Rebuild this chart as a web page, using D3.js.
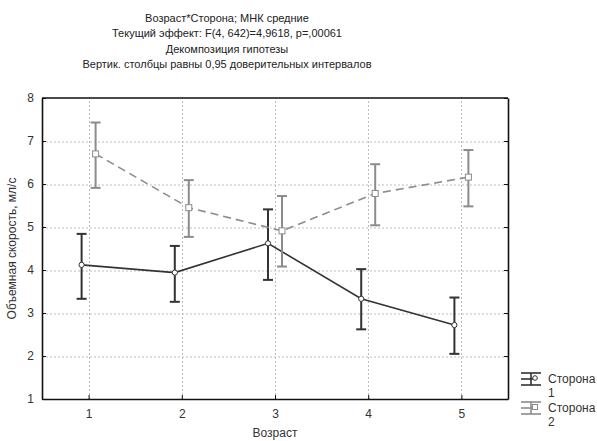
<!DOCTYPE html>
<html>
<head>
<meta charset="utf-8">
<script src="https://cdn.jsdelivr.net/npm/d3@7"></script>
<style>
  body { margin: 0; background: #fff; }
  svg { font-family: "Liberation Sans", Arial, sans-serif; }
</style>
</head>
<body>
<svg id="chart" width="597" height="441"></svg>
<script>
// chart data
const titleLines = [
  'Возраст*Сторона; МНК средние',
  'Текущий  эффект: F(4, 642)=4,9618, p=,00061',
  'Декомпозиция гипотезы',
  'Вертик. столбцы равны 0,95 доверительных интервалов'
];
const ageGroups = [1, 2, 3, 4, 5];
const yTicks = [1, 2, 3, 4, 5, 6, 7, 8];
const gridLevels = [2, 3, 4, 5, 6, 7];
const side1Mean = [4.12, 3.94, 4.62, 3.33, 2.72];
const side1Low = [3.33, 3.26, 3.77, 2.62, 2.05];
const side1High = [4.84, 4.56, 5.41, 4.02, 3.36];
const side2Mean = [6.70, 5.45, 4.91, 5.78, 6.16];
const side2Low = [5.91, 4.77, 4.08, 5.04, 5.48];
const side2High = [7.43, 6.09, 5.72, 6.46, 6.79];

const svg = d3.select('#chart');
const margin = { left: 42, right: 89, top: 98, bottom: 42 };
const W = 597, H = 441;

const x = d3.scaleLinear().domain([0.5, 5.5]).range([margin.left, W - margin.right]);
const y = d3.scaleLinear().domain([1, 8]).range([H - margin.bottom, margin.top]);
const crisp = v => Math.round(v) + 0.5;

// titles
svg.selectAll('text.title')
  .data(titleLines)
  .join('text')
  .attr('class', 'title')
  .attr('x', 227)
  .attr('y', (d, i) => 22 + i * 15.3)
  .attr('text-anchor', 'middle')
  .attr('font-size', 11)
  .attr('fill', '#222')
  .text(d => d);

// grid
const gridX = svg.append('g');
gridX.selectAll('line')
  .data(ageGroups)
  .join('line')
  .attr('x1', d => crisp(x(d))).attr('x2', d => crisp(x(d)))
  .attr('y1', y(1)).attr('y2', y(8))
  .attr('stroke', '#bbb').attr('stroke-dasharray', '2,2');

// horizontal grid through an axis with full-width ticks
const gridY = svg.append('g')
  .attr('transform', `translate(${x(0.5)},0.5)`)
  .call(d3.axisLeft(y).tickValues(gridLevels).tickSize(-(x(5.5) - x(0.5))).tickFormat(''));
gridY.select('.domain').remove();
gridY.selectAll('.tick line')
  .attr('stroke', '#bdbdbd').attr('stroke-width', 1).attr('stroke-dasharray', '2,2');

// axes (inward ticks)
const xAxis = d3.axisBottom(x).tickValues(ageGroups).tickFormat(d3.format('d')).tickSizeInner(-4).tickSizeOuter(0).tickPadding(10);
const yAxis = d3.axisLeft(y).tickValues(yTicks).tickFormat(d3.format('d')).tickSizeInner(-4).tickSizeOuter(0).tickPadding(8);
const yAxisR = d3.axisRight(y).tickValues(yTicks).tickSizeInner(-4).tickSizeOuter(0).tickFormat('');

const gx = svg.append('g').attr('transform', `translate(0,${y(1)})`).call(xAxis);
const gy = svg.append('g').attr('transform', `translate(${x(0.5)},0)`).call(yAxis);
const gr = svg.append('g').attr('transform', `translate(${x(5.5)},0)`).call(yAxisR);
[gx, gy, gr].forEach(g => {
  g.select('.domain').attr('stroke', '#111').attr('stroke-width', 1.6);
  g.selectAll('.tick line').attr('stroke', '#111');
  g.selectAll('.tick text').attr('font-size', 12).attr('fill', '#333')
    .style('font-family', '"Liberation Sans", Arial, sans-serif');
});
svg.append('line')
  .attr('x1', x(0.5)).attr('x2', x(5.5))
  .attr('y1', y(8)).attr('y2', y(8))
  .attr('stroke', '#111').attr('stroke-width', 1.6);

// axis titles
svg.append('text')
  .attr('x', x(3)).attr('y', 437)
  .attr('text-anchor', 'middle').attr('font-size', 12).attr('fill', '#333')
  .text('Возраст');
svg.append('text')
  .attr('transform', `translate(16,${(y(1) + y(8)) / 2}) rotate(-90)`)
  .attr('text-anchor', 'middle').attr('font-size', 12).attr('fill', '#333')
  .text('Объемная скорость, мл/с');

// series
const series = [
  { name: 'Сторона', num: '1', mean: side1Mean, low: side1Low, high: side1High, off: -0.075, color: '#333', dash: null, marker: 'circle' },
  { name: 'Сторона', num: '2', mean: side2Mean, low: side2Low, high: side2High, off: 0.075, color: '#8c8c8c', dash: '8,5', marker: 'square' }
];

const cap = 5;
series.forEach(s => {
  const g = svg.append('g');
  const pts = ageGroups.map((a, i) => ({ a: a + s.off, m: s.mean[i], lo: s.low[i], hi: s.high[i] }));

  g.append('path')
    .datum(pts)
    .attr('fill', 'none')
    .attr('stroke', s.color)
    .attr('stroke-width', 1.6)
    .attr('stroke-dasharray', s.dash)
    .attr('d', d3.line().x(d => x(d.a)).y(d => y(d.m)));

  const eb = g.selectAll('g.eb').data(pts).join('g');
  eb.append('line')
    .attr('x1', d => x(d.a)).attr('x2', d => x(d.a))
    .attr('y1', d => y(d.lo)).attr('y2', d => y(d.hi))
    .attr('stroke', s.color).attr('stroke-width', 2);
  eb.append('line')
    .attr('x1', d => x(d.a) - cap).attr('x2', d => x(d.a) + cap)
    .attr('y1', d => y(d.hi)).attr('y2', d => y(d.hi))
    .attr('stroke', s.color).attr('stroke-width', 2);
  eb.append('line')
    .attr('x1', d => x(d.a) - cap).attr('x2', d => x(d.a) + cap)
    .attr('y1', d => y(d.lo)).attr('y2', d => y(d.lo))
    .attr('stroke', s.color).attr('stroke-width', 2);

  if (s.marker === 'circle') {
    g.selectAll('circle').data(pts).join('circle')
      .attr('cx', d => x(d.a)).attr('cy', d => y(d.m)).attr('r', 2.6)
      .attr('fill', '#fff').attr('stroke', s.color).attr('stroke-width', 1);
  } else {
    g.selectAll('rect').data(pts).join('rect')
      .attr('x', d => x(d.a) - 3).attr('y', d => y(d.m) - 3)
      .attr('width', 6).attr('height', 6)
      .attr('fill', '#fff').attr('stroke', s.color).attr('stroke-width', 1);
  }
});

// legend
const legend = svg.append('g').attr('transform', 'translate(521,373)');
series.forEach((s, i) => {
  const g = legend.append('g').attr('transform', `translate(0,${i * 29})`);
  g.append('line').attr('x1', 0).attr('x2', 20).attr('y1', 0).attr('y2', 0).attr('stroke', s.color).attr('stroke-width', 1.6);
  g.append('line').attr('x1', 0).attr('x2', 20).attr('y1', 12).attr('y2', 12).attr('stroke', s.color).attr('stroke-width', 1.6);
  g.append('line').attr('x1', 0).attr('x2', 12).attr('y1', 6).attr('y2', 6).attr('stroke', s.color).attr('stroke-width', 1.6);
  g.append('line').attr('x1', 10).attr('x2', 10).attr('y1', 0).attr('y2', 12).attr('stroke', s.color).attr('stroke-width', 1.6);
  if (s.marker === 'circle') {
    g.append('circle').attr('cx', 14).attr('cy', 5).attr('r', 2.3).attr('fill', '#fff').attr('stroke', s.color);
  } else {
    g.append('rect').attr('x', 11.5).attr('y', 2.5).attr('width', 5).attr('height', 5).attr('fill', '#fff').attr('stroke', s.color);
  }
  g.append('text').attr('x', 27).attr('y', 10).attr('font-size', 12).attr('fill', '#333').text(s.name);
  g.append('text').attr('x', 27).attr('y', 24).attr('font-size', 12).attr('fill', '#333').text(s.num);
});
</script>
</body>
</html>
